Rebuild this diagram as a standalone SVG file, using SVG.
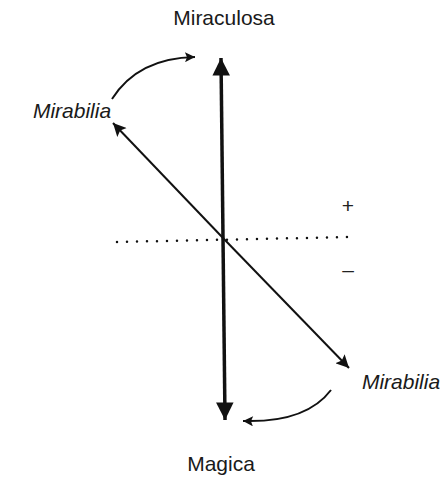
<svg xmlns="http://www.w3.org/2000/svg" width="446" height="485" viewBox="0 0 446 485">
<defs>
<style>
.lbl{font-family:"Liberation Sans",Arial,sans-serif;font-size:21px;fill:#1a1a1a}
.it{font-style:italic}
.ln{stroke:#111;fill:none}
.sign{font-family:"Liberation Sans",Arial,sans-serif;font-size:21px;fill:#222}
</style>
<marker id="bigHead" viewBox="0 0 10 10" refX="10" refY="5" markerWidth="7" markerHeight="5" markerUnits="strokeWidth" orient="auto">
<path d="M0,0 L10,5 L0,10 Z" fill="#111"/>
</marker>
<marker id="midHead" viewBox="0 0 10 10" refX="10" refY="5" markerWidth="8" markerHeight="6.5" markerUnits="strokeWidth" orient="auto">
<path d="M0,0 L10,5 L0,10 L2,5 Z" fill="#111"/>
</marker>
<marker id="smallHead" viewBox="0 0 10 10" refX="10" refY="5" markerWidth="6" markerHeight="5" markerUnits="strokeWidth" orient="auto">
<path d="M0,0 L10,5 L0,10 L2,5 Z" fill="#111"/>
</marker>
</defs>
<rect width="446" height="485" fill="#fff"/>
<g id="connectors">
<line class="ln" x1="223" y1="238" x2="221" y2="58" stroke-width="3.5" marker-end="url(#bigHead)"/>
<line class="ln" x1="223" y1="238" x2="225" y2="420" stroke-width="3.5" marker-end="url(#bigHead)"/>
<line class="ln" x1="223" y1="238" x2="113" y2="123" stroke-width="2" marker-end="url(#midHead)"/>
<line class="ln" x1="223" y1="238" x2="349" y2="368" stroke-width="2" marker-end="url(#midHead)"/>
<line class="ln" x1="117" y1="242" x2="350" y2="237" stroke-width="2.5" stroke-dasharray="0 10" stroke-linecap="round"/>
<path class="ln" d="M112,99 Q138,58 195,57" stroke-width="2" marker-end="url(#smallHead)"/>
<path class="ln" d="M331,390 Q306,423 243,421" stroke-width="2" marker-end="url(#smallHead)"/>
</g>
<g id="miraculosa"><text class="lbl" x="224" y="25" text-anchor="middle">Miraculosa</text></g>
<g id="mirabilia-left"><text class="lbl it" x="72" y="118" text-anchor="middle">Mirabilia</text></g>
<g id="mirabilia-right"><text class="lbl it" x="401" y="389" text-anchor="middle">Mirabilia</text></g>
<g id="magica"><text class="lbl" x="221" y="471" text-anchor="middle">Magica</text></g>
<g id="plus"><text class="sign" x="348" y="213" text-anchor="middle">+</text></g>
<g id="minus"><text class="sign" x="348" y="277" text-anchor="middle">–</text></g>
</svg>
